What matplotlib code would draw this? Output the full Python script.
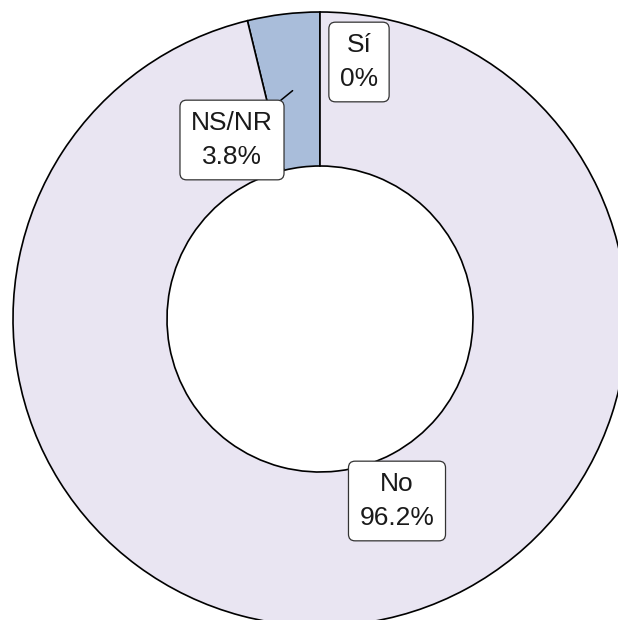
import numpy as np
import matplotlib.pyplot as plt

plt.rcParams['font.family'] = ['Liberation Sans', 'DejaVu Sans']

# data
categories = ["Sí", "NS/NR", "No"]
percentages = [0.0, 3.8, 96.2]
colors = ["#A9BDDA", "#A9BDDA", "#E9E5F2"]

# layout (pixels, y from top)
W, H = 618, 620
cx, cy = 320, 319
r_out, r_in = 307, 153
label_pos = [(359, 62), (232, 140), (397, 501)]
show_segment = [False, True, False]

fig = plt.figure(figsize=(W / 100, H / 100), dpi=100)
ax = fig.add_axes([0, 0, 1, 1])

wedges, _ = ax.pie(percentages, colors=colors, startangle=90, counterclock=True,
                   center=(cx, H - cy), radius=r_out,
                   wedgeprops=dict(width=r_out - r_in, edgecolor='black', linewidth=1.2))
ax.set_xlim(0, W)
ax.set_ylim(0, H)
ax.set_aspect('equal')
ax.axis('off')

# labels
for w, cat, pct, (lx, ly), seg in zip(wedges, categories, percentages, label_pos, show_segment):
    mid = np.deg2rad((w.theta1 + w.theta2) / 2)
    r_mid = (r_out + r_in) / 2
    ax_x = cx + r_mid * np.cos(mid)
    ax_y = H - cy + r_mid * np.sin(mid)
    txt = f"{cat}\n{pct:g}%"
    bbox = dict(boxstyle="round,pad=0.42,rounding_size=0.25", fc="white", ec="#333333", lw=0.9)
    if seg:
        ax.annotate(txt, xy=(ax_x, ax_y), xytext=(lx, H - ly), ha='center', va='center',
                    fontsize=19, color='#1a1a1a', linespacing=1.5, bbox=bbox,
                    arrowprops=dict(arrowstyle='-', color='black', lw=1.1, shrinkA=0, shrinkB=0))
    else:
        ax.text(lx, H - ly, txt, ha='center', va='center', fontsize=19,
                color='#1a1a1a', linespacing=1.5, bbox=bbox)

fig.savefig("out.png", dpi=100)
